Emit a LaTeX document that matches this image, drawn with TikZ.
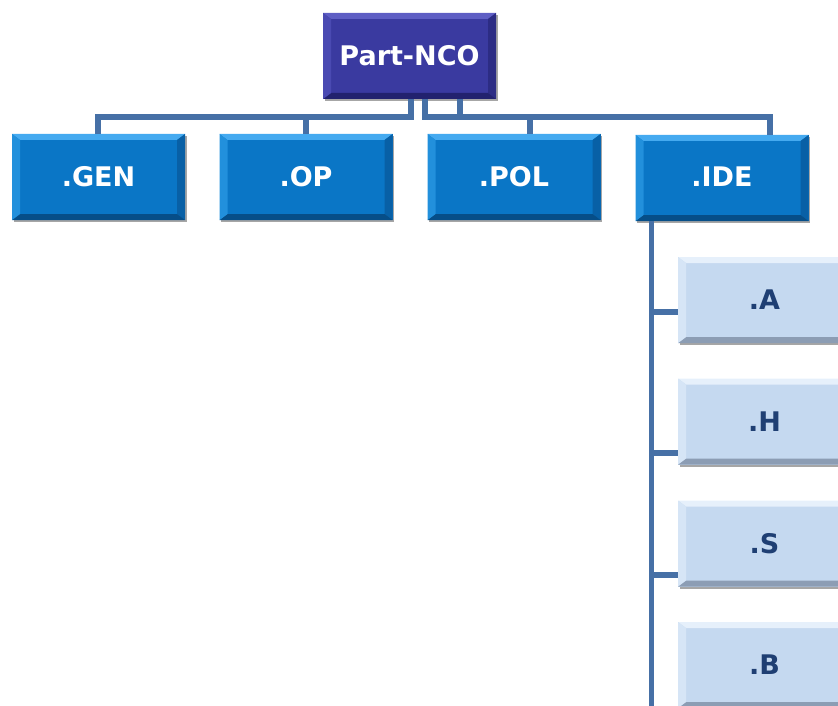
\documentclass[tikz,border=0pt]{standalone}
\usepackage{fontspec}
\setmainfont{DejaVu Sans}
\usetikzlibrary{shadows,calc}
\definecolor{topc}{HTML}{3A3AA0}
\definecolor{topT}{HTML}{5E5EC4}
\definecolor{topB}{HTML}{22226E}
\definecolor{topL}{HTML}{4A4AB2}
\definecolor{topR}{HTML}{2C2C84}
\definecolor{midc}{HTML}{0A76C6}
\definecolor{midT}{HTML}{45AAF0}
\definecolor{midB}{HTML}{064E88}
\definecolor{midL}{HTML}{2290DC}
\definecolor{midR}{HTML}{0860A6}
\definecolor{lowc}{HTML}{C5D9F0}
\definecolor{lowT}{HTML}{E6F0FB}
\definecolor{lowB}{HTML}{8C9DB4}
\definecolor{lowL}{HTML}{D6E5F6}
\definecolor{lowR}{HTML}{A9BCD4}
\definecolor{lowtext}{HTML}{1F3F73}
\definecolor{conncol}{HTML}{4670A6}
\tikzset{
  bev/.style n args={4}{path picture={
    \coordinate (bnw) at (path picture bounding box.north west);
    \coordinate (bne) at (path picture bounding box.north east);
    \coordinate (bse) at (path picture bounding box.south east);
    \coordinate (bsw) at (path picture bounding box.south west);
    \fill[#1] (bnw) -- (bne) -- ([xshift=-8pt,yshift=-6pt]bne) -- ([xshift=8pt,yshift=-6pt]bnw) -- cycle;
    \fill[#2] (bne) -- (bse) -- ([xshift=-8pt,yshift=6pt]bse) -- ([xshift=-8pt,yshift=-6pt]bne) -- cycle;
    \fill[#3] (bse) -- (bsw) -- ([xshift=8pt,yshift=6pt]bsw) -- ([xshift=-8pt,yshift=6pt]bse) -- cycle;
    \fill[#4] (bsw) -- (bnw) -- ([xshift=8pt,yshift=-6pt]bnw) -- ([xshift=8pt,yshift=6pt]bsw) -- cycle;
  }},
  box/.style={minimum width=173pt, minimum height=86pt, inner sep=0pt,
    font=\fontsize{27}{32}\selectfont\bfseries,
    drop shadow={shadow xshift=1.5pt, shadow yshift=-2pt, opacity=.35, fill=black}},
  topbox/.style={box, fill=topc, text=white, bev={topT}{topR}{topB}{topL}},
  midbox/.style={box, fill=midc, text=white, bev={midT}{midR}{midB}{midL}},
  lowbox/.style={box, fill=lowc, text=lowtext, bev={lowT}{lowR}{lowB}{lowL}},
  conn/.style={draw=conncol, line width=5.5pt}
}
\begin{document}
\begin{tikzpicture}[x=1pt,y=-1pt]
\useasboundingbox (0,0) rectangle (838,706);
\clip (0,0) rectangle (838,706);
\node[topbox] (P) at (409.5,56) {\raisebox{2pt}{Part-NCO}};
\node[midbox] (GEN) at (98.5,177) {\raisebox{2pt}{.GEN}};
\node[midbox] (OP) at (306,177) {\raisebox{2pt}{.OP}};
\node[midbox] (POL) at (514,177) {\raisebox{2pt}{.POL}};
\node[midbox] (IDE) at (722,178) {\raisebox{2pt}{.IDE}};
\node[lowbox] (A) at (764.5,300) {.A};
\node[lowbox] (H) at (764.5,421.5) {.H};
\node[lowbox] (S) at (764.5,543.5) {.S};
\node[lowbox] (B) at (764.5,665) {.B};
\draw[conn] ([xshift=1.5pt]P.south) -- ++(0,18) -| ([xshift=-0.5pt]GEN.north);
\draw[conn] ([xshift=1.5pt]P.south) -- ++(0,18) -| (OP.north);
\draw[conn] ([xshift=15.5pt]P.south) -- ++(0,18) -| ([xshift=16pt]POL.north);
\draw[conn] ([xshift=50.5pt]P.south) -- ++(0,18) -| ([xshift=48pt]IDE.north);
\draw[conn] ([xshift=16pt]IDE.south west) |- ([yshift=-12pt]A.west);
\draw[conn] ([xshift=16pt]IDE.south west) |- ([yshift=-31.5pt]H.west);
\draw[conn] ([xshift=16pt]IDE.south west) |- ([yshift=-31.5pt]S.west);
\draw[conn] ([xshift=16pt]IDE.south west) |- ([yshift=-50pt]B.west);
\end{tikzpicture}
\end{document}
